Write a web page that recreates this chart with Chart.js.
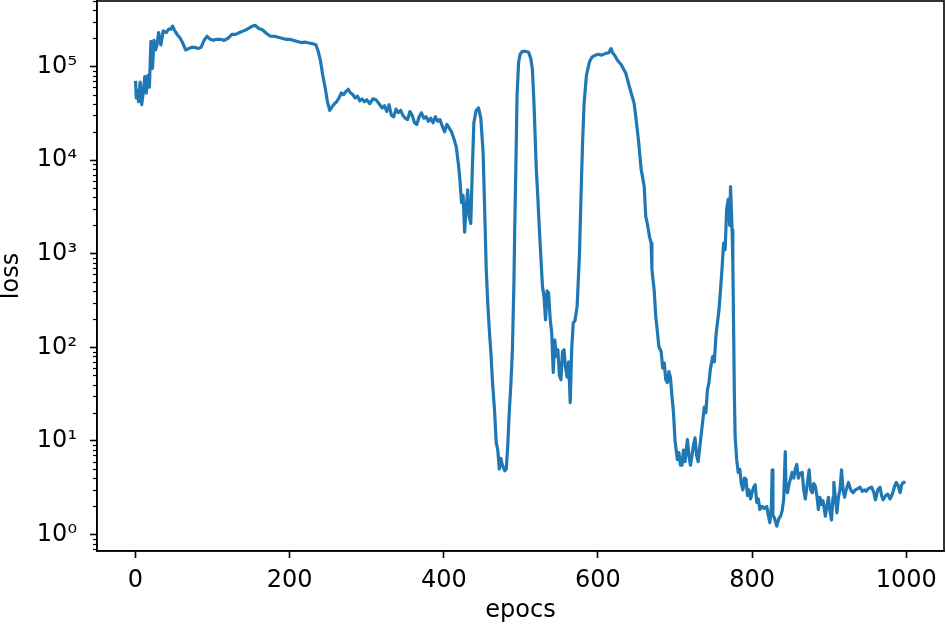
<!DOCTYPE html>
<html>
<head>
<meta charset="utf-8">
<script src="https://cdn.jsdelivr.net/npm/chart.js@4/dist/chart.umd.min.js"></script>
<style>
html, body { margin: 0; padding: 0; background: #fff; }
</style>
</head>
<body>
<canvas id="grafico" width="946" height="628"></canvas>
<script>
// epocas (nao uniformes, mais densas onde a curva oscila)
var epocas = [
    0, 1, 2, 4, 6, 8, 10, 12, 14, 16, 18, 20, 22, 24, 26, 28, 30, 33, 36, 40,
    43, 46, 48, 51, 54, 58, 61, 65, 69, 73, 77, 81, 85, 89, 93, 97, 101, 105, 110, 115,
    120, 125, 130, 135, 140, 145, 150, 155, 160, 165, 170, 175, 180, 185, 190, 195, 200, 205, 210, 215,
    220, 225, 230, 234, 237, 240, 243, 246, 249, 252, 255, 258, 261, 264, 267, 270, 273, 276, 279, 282,
    285, 288, 291, 294, 297, 300, 304, 308, 312, 316, 320, 323, 326, 329, 332, 335, 338, 341, 344, 347,
    350, 353, 356, 359, 362, 365, 368, 371, 374, 377, 380, 383, 386, 389, 392, 395, 398, 401, 404, 407,
    410, 413, 416, 419, 421, 423, 425, 427, 429, 431, 433, 435, 437, 439, 442, 445, 448, 451, 453, 455,
    457, 459, 461, 463, 466, 468, 470, 472, 474, 476, 479, 481, 483, 485, 487, 489, 491, 492, 494, 495,
    497, 499, 502, 506, 510, 513, 515, 517, 520, 522, 524, 526, 528, 530, 532, 534, 536, 538, 540, 542,
    544, 546, 548, 550, 552, 554, 556, 558, 560, 562, 564, 566, 568, 570, 573, 576, 578, 580, 582, 585,
    589, 592, 595, 600, 605, 610, 614, 617, 619, 622, 625, 630, 636, 641, 647, 650, 653, 656, 660, 662,
    664, 667, 669, 670, 673, 675, 677, 679, 682, 684, 686, 688, 690, 692, 694, 696, 698, 700, 703, 705,
    707, 709, 711, 713, 716, 718, 720, 722, 724, 726, 728, 730, 733, 735, 738, 740, 742, 744, 746, 749,
    751, 753, 755, 757, 759, 761, 763, 765, 767, 769, 771, 772, 774, 775, 776, 777, 778, 780, 782, 784,
    786, 788, 790, 792, 794, 796, 798, 800, 802, 804, 806, 808, 810, 813, 816, 819, 821, 823, 825, 826,
    827, 829, 832, 835, 837, 839, 841, 843, 844, 846, 848, 850, 852, 854, 856, 858, 860, 862, 865, 867,
    869, 871, 874, 876, 878, 880, 882, 884, 886, 888, 890, 892, 895, 897, 899, 901, 903, 905, 906, 908,
    910, 912, 914, 916, 918, 920, 922, 925, 928, 931, 934, 937, 940, 943, 946, 948, 951, 955, 958, 960,
    963, 966, 968, 970, 973, 976, 979, 981, 983, 985, 987, 989, 992, 994, 996, 999
];

var perdas = [
    7.0e4, 4.6e4, 5.6e4, 4.2e4, 6.8e4, 3.9e4, 5.2e4, 7.8e4, 5.2e4, 8.0e4, 6.0e4, 1.85e5, 9.5e4, 1.9e5, 1.5e5, 1.7e5, 2.3e5, 1.7e5, 2.4e5, 2.3e5,
    2.5e5, 2.5e5, 2.7e5, 2.4e5, 2.2e5, 2.0e5, 1.8e5, 1.5e5, 1.55e5, 1.6e5, 1.6e5, 1.55e5, 1.6e5, 1.9e5, 2.1e5, 1.95e5, 1.9e5, 1.95e5, 1.95e5, 1.9e5,
    2.0e5, 2.2e5, 2.2e5, 2.3e5, 2.4e5, 2.5e5, 2.65e5, 2.75e5, 2.55e5, 2.45e5, 2.25e5, 2.1e5, 2.1e5, 2.05e5, 2.0e5, 1.95e5, 1.95e5, 1.9e5, 1.85e5, 1.8e5,
    1.82e5, 1.78e5, 1.75e5, 1.7e5, 1.45e5, 1.15e5, 8.0e4, 6.0e4, 4.2e4, 3.4e4, 3.7e4, 4.0e4, 4.2e4, 4.6e4, 5.2e4, 5.0e4, 5.4e4, 5.7e4, 5.2e4, 5.0e4,
    4.6e4, 4.8e4, 4.3e4, 4.5e4, 4.2e4, 4.4e4, 4.0e4, 4.5e4, 4.4e4, 4.0e4, 3.6e4, 3.8e4, 3.3e4, 3.9e4, 3.0e4, 2.9e4, 3.5e4, 3.2e4, 3.4e4, 3.0e4,
    2.8e4, 2.7e4, 3.3e4, 3.0e4, 2.5e4, 2.4e4, 2.9e4, 3.2e4, 2.8e4, 2.9e4, 2.6e4, 2.8e4, 2.5e4, 2.9e4, 2.6e4, 2.7e4, 2.3e4, 2.0e4, 2.4e4, 2.2e4,
    2.0e4, 1.7e4, 1.4e4, 9.0e3, 6.0e3, 3.5e3, 4.2e3, 1.7e3, 3.0e3, 4.8e3, 2.5e3, 2.1e3, 8.0e3, 2.5e4, 3.4e4, 3.6e4, 2.8e4, 1.2e4, 3.0e3, 700,
    300, 155, 90, 45, 20, 9.6, 8, 5, 6.5, 5.5, 4.8, 5.0, 9, 21, 40, 94, 500, 1.8e3, 1.5e4, 4.8e4,
    1.1e5, 1.35e5, 1.45e5, 1.45e5, 1.42e5, 1.2e5, 9.2e4, 4.0e4, 8.0e3, 4.0e3, 1.8e3, 900, 445, 350, 196, 400, 380, 200, 143, 54,
    120, 80, 94, 50, 45, 90, 94, 60, 48, 70, 25.7, 100, 183, 190, 275, 1.0e3, 4.1e3, 1.5e4, 4.0e4, 8.0e4,
    1.12e5, 1.25e5, 1.3e5, 1.35e5, 1.32e5, 1.38e5, 1.4e5, 1.55e5, 1.4e5, 1.3e5, 1.17e5, 1.05e5, 8.5e4, 6.0e4, 4.0e4, 2.5e4, 1.5e4, 8.0e3, 5.2e3, 2.5e3,
    2.1e3, 1.5e3, 1.3e3, 680, 400, 213, 150, 102, 90, 60, 68, 45, 42, 55, 48, 30, 20, 10, 6.3, 7.5,
    5.5, 5.5, 8, 6, 10.3, 7, 5.5, 7, 9, 10.8, 7, 6, 10, 14, 23, 20, 35, 42, 60, 80,
    70, 130, 183, 250, 410, 700, 1.3e3, 1.1e3, 3.0e3, 3.8e3, 2.0e3, 5.2e3, 1.8e3, 800, 155, 30, 11, 6.3, 4.6, 5.0,
    3.5, 3.0, 4.0, 3.9, 2.6, 3.0, 2.4, 2.8, 3.2, 3.4, 2.2, 2.4, 1.85, 2.0, 1.9, 2.0, 1.6, 1.34, 2.0, 4.9,
    1.6, 1.5, 1.23, 1.5, 1.57, 1.8, 2.4, 7.7, 3.0, 2.8, 3.5, 4.0, 4.6, 4.0, 5.0, 5.6, 4.0, 4.5, 4.6, 3.0,
    2.4, 3.2, 4.9, 3.0, 2.8, 3.5, 3.3, 2.6, 1.85, 2.5, 2.1, 2.3, 1.57, 2.0, 2.5, 1.8, 1.43, 2.5, 3.6, 2.5,
    1.7, 2.5, 3.0, 4.9, 3.0, 2.5, 3.0, 3.6, 3.0, 2.8, 3.0, 3.1, 3.2, 2.9, 3.0, 2.9, 3.1, 3.2, 2.8, 2.35,
    3.0, 3.2, 2.6, 2.35, 2.6, 2.7, 2.4, 2.6, 2.9, 3.3, 3.6, 3.4, 2.8, 3.4, 3.6, 3.6
];

var xTicks = [0, 200, 400, 600, 800, 1000];
var yTicks = [1, 10, 100, 1000, 10000, 100000];
var yTickLabels = ["10⁰", "10¹", "10²", "10³", "10⁴", "10⁵"];

var fonte = { family: "DejaVu Sans", size: 24 };

var pontos = epocas.map(function (e, i) {
    return { x: e, y: perdas[i] };
});

// moldura completa e ticks menores do eixo log
var moldura = {
    id: "moldura",
    afterDraw: function (chart) {
        var ctx = chart.ctx;
        var a = chart.chartArea;
        var escalaY = chart.scales.y;
        ctx.save();
        ctx.strokeStyle = "#000";
        ctx.lineWidth = 1.2;
        for (var e = -1; e <= 5; e++) {
            for (var m = 2; m <= 9; m++) {
                var v = m * Math.pow(10, e);
                if (v < escalaY.min || v > escalaY.max) continue;
                var py = Math.round(escalaY.getPixelForValue(v)) + 0.5;
                ctx.beginPath();
                ctx.moveTo(a.left - 4, py);
                ctx.lineTo(a.left, py);
                ctx.stroke();
            }
        }
        ctx.lineWidth = 1.6;
        ctx.strokeRect(a.left, a.top, a.right - a.left, a.bottom - a.top);
        ctx.restore();
    }
};

new Chart(document.getElementById("grafico"), {
    type: "line",
    data: {
        datasets: [{
            data: pontos,
            borderColor: "#1f77b4",
            borderWidth: 3.2,
            borderJoinStyle: "round",
            pointRadius: 0,
            tension: 0,
            fill: false
        }]
    },
    options: {
        responsive: false,
        animation: false,
        devicePixelRatio: 1,
        layout: { padding: { top: 1, right: 2, left: 0, bottom: 0 } },
        plugins: {
            legend: { display: false },
            tooltip: { enabled: false }
        },
        scales: {
            x: {
                type: "linear",
                min: -49.95,
                max: 1048.95,
                afterBuildTicks: function (s) {
                    s.ticks = xTicks.map(function (v) { return { value: v }; });
                },
                afterFit: function (s) {
                    s.height = 77;
                    s.paddingLeft = 0;
                    s.paddingRight = 0;
                },
                ticks: {
                    autoSkip: false,
                    maxRotation: 0,
                    color: "#000",
                    font: fonte,
                    padding: 8,
                    callback: function (value) { return String(value); }
                },
                grid: {
                    drawOnChartArea: false,
                    drawTicks: true,
                    tickLength: 7,
                    tickWidth: 1.6,
                    tickColor: "#000"
                },
                border: { display: true, color: "#000", width: 1.6 },
                title: {
                    display: true,
                    text: "epocs",
                    color: "#000",
                    font: fonte,
                    padding: { top: 0, bottom: 3 }
                }
            },
            y: {
                type: "logarithmic",
                min: 0.667,
                max: 5.0e5,
                afterBuildTicks: function (s) {
                    s.ticks = yTicks.map(function (v) { return { value: v }; });
                },
                afterFit: function (s) {
                    s.width = 97;
                    s.paddingTop = 0;
                    s.paddingBottom = 0;
                },
                ticks: {
                    autoSkip: false,
                    color: "#000",
                    font: fonte,
                    padding: 13,
                    callback: function (value) {
                        var i = yTicks.indexOf(value);
                        return i >= 0 ? yTickLabels[i] : "";
                    }
                },
                grid: {
                    drawOnChartArea: false,
                    drawTicks: true,
                    tickLength: 7,
                    tickWidth: 1.6,
                    tickColor: "#000"
                },
                border: { display: true, color: "#000", width: 1.6 },
                title: {
                    display: true,
                    text: "loss",
                    color: "#000",
                    font: fonte,
                    padding: { top: -3, bottom: 0 }
                }
            }
        }
    },
    plugins: [moldura]
});
</script>
</body>
</html>
